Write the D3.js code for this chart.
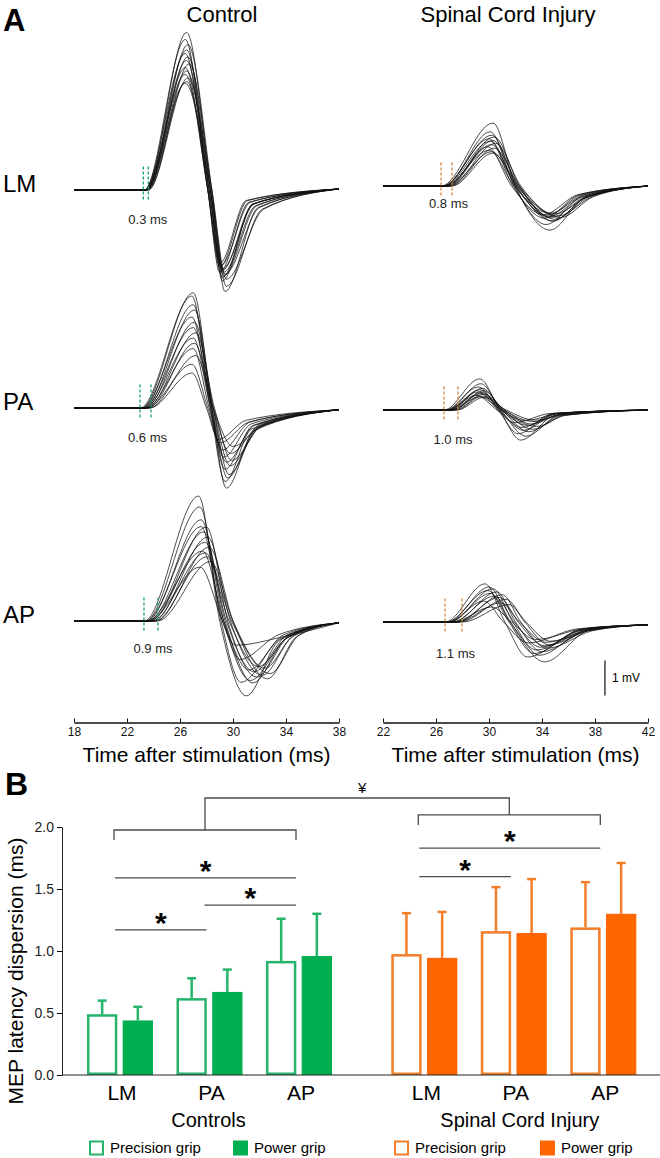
<!DOCTYPE html>
<html>
<head>
<meta charset="utf-8">
<script src="https://cdnjs.cloudflare.com/ajax/libs/d3/7.8.5/d3.min.js"></script>
<style>
  body { margin: 0; background: #fff; }
  svg { display: block; font-family: "Liberation Sans", Arial, sans-serif; }
</style>
</head>
<body>
<svg id="fig" width="660" height="1158"></svg>
<script>
// ====== Panel A: MEP traces ======
// each row: [onset, peakT, peakV, zeroT, troughT, troughV, recT, recV]  (ms, mV)
const ctlLM = [
  [23.4, 26.5, 4.50, 28.3, 29.2, -2.60, 31.5, -0.40],
  [23.3, 26.4, 4.30, 28.1, 29.0, -2.35, 31.2, -0.35],
  [23.5, 26.6, 4.15, 28.4, 29.4, -2.90, 31.9, -0.50],
  [23.4, 26.5, 4.00, 28.2, 29.2, -2.50, 31.5, -0.40],
  [23.3, 26.4, 3.90, 28.1, 29.0, -2.20, 31.1, -0.30],
  [23.5, 26.6, 3.80, 28.3, 29.3, -2.45, 31.8, -0.45],
  [23.4, 26.5, 3.70, 28.2, 29.2, -2.30, 31.5, -0.40],
  [23.6, 26.7, 3.60, 28.4, 29.5, -2.75, 32.2, -0.55],
  [23.4, 26.4, 3.50, 28.1, 29.1, -2.15, 31.3, -0.35],
  [23.5, 26.5, 3.40, 28.3, 29.3, -2.35, 31.7, -0.45],
  [23.3, 26.4, 3.30, 28.1, 29.0, -2.10, 31.0, -0.30],
  [23.6, 26.6, 3.20, 28.4, 29.5, -2.55, 32.3, -0.55],
  [23.5, 26.5, 3.10, 28.2, 29.2, -2.25, 31.6, -0.40],
  [23.4, 26.4, 3.05, 28.3, 29.4, -2.40, 32.0, -0.50]
];
const ctlPA = [
  [23.1, 27.0, 3.29, 28.4, 29.5, -2.29, 31.6, -0.65],
  [23.0, 26.9, 3.20, 28.3, 29.4, -2.10, 31.4, -0.60],
  [23.2, 27.0, 2.95, 28.4, 29.6, -2.00, 31.7, -0.60],
  [23.3, 27.1, 2.80, 28.5, 29.7, -1.90, 31.9, -0.55],
  [23.1, 26.9, 2.60, 28.3, 29.4, -1.75, 31.5, -0.50],
  [23.4, 27.1, 2.45, 28.5, 29.8, -1.65, 32.0, -0.55],
  [23.2, 27.0, 2.30, 28.4, 29.5, -1.55, 31.6, -0.50],
  [23.5, 27.2, 2.15, 28.6, 29.9, -1.50, 32.2, -0.50],
  [23.3, 27.0, 2.00, 28.3, 29.3, -1.40, 31.4, -0.45],
  [23.6, 27.1, 1.85, 28.5, 29.8, -1.30, 32.1, -0.45],
  [23.4, 27.0, 1.70, 28.2, 29.2, -1.20, 31.3, -0.40],
  [23.7, 27.2, 1.50, 28.5, 30.0, -1.10, 32.3, -0.45],
  [23.5, 26.9, 1.25, 28.1, 29.0, -1.00, 31.2, -0.40],
  [23.7, 26.9, 1.00, 28.0, 28.9, -0.90, 31.0, -0.35]
];
const ctlAP = [
  [23.3, 27.4, 3.57, 29.0, 31.0, -2.14, 33.5, -0.55],
  [23.4, 27.5, 3.26, 29.1, 30.6, -1.75, 33.6, -0.50],
  [23.5, 27.6, 2.89, 29.3, 31.3, -1.70, 34.0, -0.50],
  [23.8, 28.0, 2.69, 29.6, 31.8, -1.60, 34.2, -0.45],
  [23.6, 27.8, 2.55, 29.4, 31.5, -1.77, 34.0, -0.50],
  [24.0, 28.1, 2.40, 29.8, 32.2, -1.55, 34.5, -0.45],
  [23.7, 27.9, 2.25, 29.5, 31.6, -1.45, 34.1, -0.40],
  [24.2, 28.2, 2.11, 30.0, 32.6, -1.65, 34.8, -0.45],
  [23.5, 27.7, 2.00, 29.3, 31.2, -1.40, 33.8, -0.40],
  [24.1, 28.0, 1.83, 29.9, 32.8, -1.50, 35.0, -0.40],
  [24.3, 28.3, 1.70, 30.0, 32.4, -1.35, 34.6, -0.40],
  [23.6, 27.5, 1.54, 29.2, 30.5, -1.10, 33.4, -0.40],
  [23.9, 27.9, 1.95, 29.7, 31.9, -1.30, 34.3, -0.40],
  [23.4, 27.6, 2.70, 29.2, 30.2, -0.69, 33.8, -0.45]
];
const sciLM = [
  [26.4, 30.3, 1.80, 32.0, 34.6, -1.26, 37.2, -0.35],
  [26.6, 30.1, 1.55, 31.9, 34.3, -1.10, 37.0, -0.30],
  [26.5, 30.2, 1.45, 32.1, 34.8, -1.00, 37.4, -0.30],
  [26.8, 30.4, 1.40, 32.3, 35.0, -0.95, 37.6, -0.30],
  [26.5, 30.0, 1.35, 31.8, 34.2, -0.92, 36.8, -0.25],
  [26.9, 30.3, 1.30, 32.2, 34.7, -0.90, 37.3, -0.30],
  [26.6, 30.1, 1.28, 32.0, 34.5, -0.88, 37.1, -0.30],
  [27.0, 30.5, 1.22, 32.4, 35.2, -0.86, 37.8, -0.30],
  [26.7, 30.2, 1.18, 32.0, 34.4, -0.84, 37.0, -0.25],
  [26.8, 29.9, 1.12, 31.7, 34.1, -0.82, 36.7, -0.25],
  [27.1, 30.4, 1.08, 32.3, 34.9, -0.80, 37.5, -0.30],
  [26.6, 30.0, 1.02, 31.9, 34.6, -0.78, 37.2, -0.25],
  [26.9, 30.2, 0.98, 32.1, 35.4, -0.90, 37.9, -0.30],
  [27.2, 30.3, 0.94, 32.2, 34.8, -1.00, 37.4, -0.30]
];
const sciPA = [
  [26.6, 29.3, 0.89, 30.8, 32.4, -0.86, 35.0, -0.15],
  [26.8, 29.4, 0.75, 30.9, 32.8, -0.75, 35.3, -0.15],
  [26.7, 29.2, 0.66, 30.7, 32.2, -0.68, 34.8, -0.10],
  [27.0, 29.5, 0.62, 31.0, 33.0, -0.62, 35.5, -0.15],
  [26.9, 29.3, 0.58, 30.8, 32.6, -0.58, 35.1, -0.10],
  [27.2, 29.6, 0.55, 31.1, 33.3, -0.55, 35.7, -0.15],
  [26.8, 29.2, 0.52, 30.7, 32.5, -0.50, 35.0, -0.10],
  [27.3, 29.5, 0.50, 31.0, 33.6, -0.47, 35.8, -0.15],
  [27.0, 29.4, 0.47, 30.9, 32.9, -0.44, 35.2, -0.10],
  [27.4, 29.6, 0.45, 31.2, 33.2, -0.40, 35.6, -0.10],
  [26.9, 29.0, 0.42, 30.6, 31.9, -0.36, 34.6, -0.10],
  [27.5, 29.5, 0.40, 31.1, 33.4, -0.33, 35.7, -0.10],
  [27.1, 29.3, 0.38, 30.9, 32.7, -0.30, 35.3, -0.10],
  [27.6, 29.6, 0.36, 31.3, 33.5, -0.29, 35.9, -0.10]
];
const sciAP = [
  [26.7, 29.7, 1.09, 31.2, 32.9, -1.00, 36.8, -0.25],
  [26.9, 30.0, 1.00, 31.6, 34.2, -1.14, 37.5, -0.25],
  [27.0, 30.3, 0.95, 31.8, 33.8, -0.95, 37.2, -0.25],
  [26.8, 29.9, 0.90, 31.5, 33.4, -0.90, 37.0, -0.20],
  [27.3, 30.6, 0.86, 32.0, 34.0, -0.85, 37.4, -0.25],
  [27.0, 30.1, 0.82, 31.6, 33.6, -0.80, 37.1, -0.20],
  [27.6, 31.0, 0.78, 32.4, 34.4, -0.75, 37.8, -0.25],
  [27.2, 30.4, 0.74, 31.9, 33.9, -0.72, 37.3, -0.20],
  [27.5, 30.8, 0.70, 32.2, 34.2, -0.68, 37.6, -0.20],
  [27.8, 31.3, 0.65, 32.7, 34.5, -0.65, 37.9, -0.20],
  [26.9, 29.6, 0.60, 31.1, 33.0, -0.60, 36.6, -0.20],
  [27.6, 30.9, 0.55, 32.3, 34.3, -0.58, 37.7, -0.20],
  [28.0, 31.5, 0.50, 32.8, 34.6, -0.55, 38.0, -0.20],
  [27.3, 30.2, 0.43, 31.7, 33.5, -0.50, 37.0, -0.20]
];
const ctlEndV = [0.03, -0.05, -0.05];
const sciEndV = [0.00, 0.00, -0.08];

const rowNames = ["LM", "PA", "AP"];
const ctlOnsets = [[23.23, 23.61], [22.98, 23.81], [23.28, 24.34]];
const sciOnsets = [[26.38, 27.21], [26.60, 27.66], [26.68, 27.96]];
const ctlLatency = ["0.3 ms", "0.6 ms", "0.9 ms"];
const sciLatency = ["0.8 ms", "1.0 ms", "1.1 ms"];
const ctlTicks = [18, 22, 26, 30, 34, 38];
const sciTicks = [22, 26, 30, 34, 38, 42];

// ====== Panel B: latency dispersion (ms) ======
const muscles = ["LM", "PA", "AP"];
const ctlPrecision = [0.49, 0.62, 0.92];
const ctlPrecisionSd = [0.11, 0.16, 0.34];
const ctlPower = [0.44, 0.67, 0.96];
const ctlPowerSd = [0.11, 0.18, 0.34];
const sciPrecision = [0.975, 1.16, 1.19];
const sciPrecisionSd = [0.33, 0.355, 0.365];
const sciPower = [0.945, 1.145, 1.30];
const sciPowerSd = [0.37, 0.435, 0.41];
const yTicksB = [0, 0.5, 1.0, 1.5, 2.0];
// significance bars: [fromGroup, toGroup, height]
const ctlSig = [[0, 2, 1.59], [1, 2, 1.37], [0, 1, 1.17]];
const sciSig = [[0, 2, 1.83], [0, 1, 1.60]];

// ====== layout ======
const svg = d3.select("#fig");
const GREEN = "#00b050", GREEN_LINE = "#26b36a";
const ORANGE = "#ff6600", ORANGE_LINE = "#f37e2a";
const DASH_GREEN = "#1a9e72", DASH_ORANGE = "#d4883a";

const xCtl = d3.scaleLinear().domain([18, 38]).range([74, 339]);
const xSci = d3.scaleLinear().domain([22, 42]).range([383, 648]);
const MV = 35;  // px per mV
const ctlBase = [190, 408, 621];
const sciBase = [186, 410, 622];
const ctlLabelY = [-0.97, -0.97, -0.91];
const sciLabelY = [-0.62, -0.97, -1.03];
const rowScale = base => d3.scaleLinear().domain([0, 1]).range([base, base - MV]);

svg.append("text").attr("x", 3).attr("y", 31)
  .attr("font-size", 31).attr("font-weight", "bold").text("A");
svg.append("text").attr("x", 222).attr("y", 22).attr("text-anchor", "middle")
  .attr("font-size", 22).text("Control");
svg.append("text").attr("x", 508).attr("y", 22).attr("text-anchor", "middle")
  .attr("font-size", 22).text("Spinal Cord Injury");

function drawTraces(x, base, rows, t0, t1, endV){
  const y = rowScale(base);
  const line = d3.line().x(d => x(d[0])).y(d => y(d[1])).curve(d3.curveMonotoneX);
  const g = svg.append("g");
  rows.forEach(r => {
    const pts = [[t0, 0], [r[0], 0], [r[1], r[2]], [r[3], 0], [r[4], r[5]], [r[6], r[7]], [t1, endV]];
    g.append("path").attr("d", line(pts))
      .attr("fill", "none").attr("stroke", "#111").attr("stroke-width", 0.75);
  });
}

function drawOnset(x, base, marks, color, text, labelY){
  const y = rowScale(base);
  marks.forEach(t => {
    svg.append("line")
      .attr("x1", x(t)).attr("x2", x(t)).attr("y1", y(0.67)).attr("y2", y(-0.33))
      .attr("stroke", color).attr("stroke-width", 1.3).attr("stroke-dasharray", "3,2");
  });
  svg.append("text").attr("x", x(d3.mean(marks)) + 2).attr("y", y(labelY))
    .attr("text-anchor", "middle").attr("font-size", 13).attr("fill", "#222").text(text);
}

const ctlSets = [ctlLM, ctlPA, ctlAP];
const sciSets = [sciLM, sciPA, sciAP];
rowNames.forEach((name, i) => {
  svg.append("text").attr("x", 3).attr("y", ctlBase[i] + 2)
    .attr("font-size", 24).text(name);
  drawTraces(xCtl, ctlBase[i], ctlSets[i], 18, 38, ctlEndV[i]);
  drawTraces(xSci, sciBase[i], sciSets[i], 22, 42, sciEndV[i]);
  drawOnset(xCtl, ctlBase[i], ctlOnsets[i], DASH_GREEN, ctlLatency[i], ctlLabelY[i]);
  drawOnset(xSci, sciBase[i], sciOnsets[i], DASH_ORANGE, sciLatency[i], sciLabelY[i]);
});

// 1 mV scale bar
const ySb = rowScale(sciBase[2]);
svg.append("line").attr("x1", xSci(38.75)).attr("x2", xSci(38.75))
  .attr("y1", ySb(-1.1)).attr("y2", ySb(-2.1)).attr("stroke", "#222").attr("stroke-width", 1.3);
svg.append("text").attr("x", xSci(38.75) + 7).attr("y", ySb(-1.6) + 4)
  .attr("font-size", 12).text("1 mV");

// time axes
[[xCtl, ctlTicks], [xSci, sciTicks]].forEach(([x, ticks]) => {
  const ax = svg.append("g").attr("transform", "translate(0,722.5)")
    .call(d3.axisBottom(x).tickValues(ticks).tickSizeInner(-4).tickSizeOuter(0).tickPadding(5));
  ax.selectAll("text").attr("font-size", 12).attr("font-family", "Liberation Sans, Arial, sans-serif").attr("fill", "#111");
  ax.select(".domain").attr("stroke", "#111").attr("stroke-width", 1.3);
  ax.selectAll(".tick line").attr("stroke", "#111");
  svg.append("text").attr("x", (x.range()[0] + x.range()[1]) / 2).attr("y", 762)
    .attr("text-anchor", "middle").attr("font-size", 21).text("Time after stimulation (ms)");
});

// ====== Panel B ======
const bx = d3.scaleLinear().domain([0, 1]).range([120, 209.5]);
const by = d3.scaleLinear().domain([0, 2]).range([1075, 827]);
const inner = d3.scaleBand().domain(["precision", "power"]).range([-33, 33]).paddingInner(0.15);
const ctlPos = [0, 1, 2];
const sciPos = [3.4, 4.4, 5.4];

svg.append("text").attr("x", 5).attr("y", 795)
  .attr("font-size", 32).attr("font-weight", "bold").text("B");

const groups = [
  { pos: ctlPos, prec: ctlPrecision, precSd: ctlPrecisionSd, pow: ctlPower, powSd: ctlPowerSd, fill: GREEN, line: GREEN_LINE },
  { pos: sciPos, prec: sciPrecision, precSd: sciPrecisionSd, pow: sciPower, powSd: sciPowerSd, fill: ORANGE, line: ORANGE_LINE }
];
const bw = inner.bandwidth();

groups.forEach(gr => {
  muscles.forEach((m, i) => {
    const c = bx(gr.pos[i]);
    // precision grip (open)
    const xp = c + inner("precision");
    svg.append("line").attr("x1", xp + bw / 2).attr("x2", xp + bw / 2)
      .attr("y1", by(gr.prec[i])).attr("y2", by(gr.prec[i] + gr.precSd[i]))
      .attr("stroke", gr.line).attr("stroke-width", 2.5);
    svg.append("line").attr("x1", xp + bw / 2 - 4.5).attr("x2", xp + bw / 2 + 4.5)
      .attr("y1", by(gr.prec[i] + gr.precSd[i])).attr("y2", by(gr.prec[i] + gr.precSd[i]))
      .attr("stroke", gr.line).attr("stroke-width", 2.5);
    svg.append("rect").attr("x", xp + 1.25).attr("width", bw - 2.5)
      .attr("y", by(gr.prec[i]) + 1.25).attr("height", by(0) - by(gr.prec[i]) - 2.5)
      .attr("fill", "#fff").attr("stroke", gr.line).attr("stroke-width", 2.5);
    // power grip (filled)
    const xw = c + inner("power");
    svg.append("line").attr("x1", xw + bw / 2).attr("x2", xw + bw / 2)
      .attr("y1", by(gr.pow[i])).attr("y2", by(gr.pow[i] + gr.powSd[i]))
      .attr("stroke", gr.line).attr("stroke-width", 2.5);
    svg.append("line").attr("x1", xw + bw / 2 - 4.5).attr("x2", xw + bw / 2 + 4.5)
      .attr("y1", by(gr.pow[i] + gr.powSd[i])).attr("y2", by(gr.pow[i] + gr.powSd[i]))
      .attr("stroke", gr.line).attr("stroke-width", 2.5);
    svg.append("rect").attr("x", xw).attr("width", bw)
      .attr("y", by(gr.pow[i])).attr("height", by(0) - by(gr.pow[i]))
      .attr("fill", gr.fill);
    // muscle label
    svg.append("text").attr("x", c + 2).attr("y", 1100).attr("text-anchor", "middle")
      .attr("font-size", 21).text(m);
  });
});

// axes
const yAx = svg.append("g").attr("transform", "translate(62,0)")
  .call(d3.axisLeft(by).tickValues(yTicksB).tickFormat(d3.format(".1f")).tickSizeInner(5).tickSizeOuter(0).tickPadding(3));
yAx.selectAll("text").attr("font-size", 14).attr("font-family", "Liberation Sans, Arial, sans-serif").attr("fill", "#222");
yAx.select(".domain").attr("stroke", "#222");
svg.append("line").attr("x1", 62).attr("x2", 660).attr("y1", by(0)).attr("y2", by(0))
  .attr("stroke", "#222").attr("stroke-width", 1.2);
svg.append("text").attr("transform", `translate(23,${(by(0) + by(2)) / 2 + 20}) rotate(-90)`)
  .attr("text-anchor", "middle").attr("font-size", 21).text("MEP latency dispersion (ms)");

svg.append("text").attr("x", bx(1) - 1).attr("y", 1127).attr("text-anchor", "middle")
  .attr("font-size", 20).text("Controls");
svg.append("text").attr("x", bx(4.4) + 6).attr("y", 1127).attr("text-anchor", "middle")
  .attr("font-size", 20).text("Spinal Cord Injury");

// significance lines and stars
const GREY = "#4a4a4a";
function sigLine(posArr, s){
  const x1 = bx(posArr[s[0]]) - 5, x2 = bx(posArr[s[1]]) - 3, y = by(s[2]);
  svg.append("line").attr("x1", x1).attr("x2", x2).attr("y1", y).attr("y2", y)
    .attr("stroke", GREY).attr("stroke-width", 1.3);
  svg.append("text").attr("x", (x1 + x2) / 2).attr("y", y + 3).attr("text-anchor", "middle")
    .attr("font-size", 30).attr("font-weight", "bold").text("*");
}
ctlSig.forEach(s => sigLine(ctlPos, s));
sciSig.forEach(s => sigLine(sciPos, s));

// group brackets
function bracket(posArr, h, drop){
  const x1 = bx(posArr[0]) - 6, x2 = bx(posArr[2]) - 3;
  svg.append("path")
    .attr("d", `M${x1},${by(h - drop)}V${by(h)}H${x2}V${by(h - drop)}`)
    .attr("fill", "none").attr("stroke", GREY).attr("stroke-width", 1.3);
  return [(x1 + x2) / 2, by(h)];
}
const bc = bracket(ctlPos, 1.976, 0.08);
const bs = bracket(sciPos, 2.097, 0.08);
const topY = by(2.234);
svg.append("path").attr("d", `M${bc[0]},${bc[1]}V${topY}H${bs[0]}V${bs[1]}`)
  .attr("fill", "none").attr("stroke", GREY).attr("stroke-width", 1.3);
svg.append("text").attr("x", (bc[0] + bs[0]) / 2 + 5).attr("y", topY - 5)
  .attr("text-anchor", "middle").attr("font-size", 15).text("¥");

// legend
const legendItems = [
  { label: "Precision grip", stroke: GREEN_LINE, fill: "#fff", x: 89 },
  { label: "Power grip", stroke: GREEN, fill: GREEN, x: 233 },
  { label: "Precision grip", stroke: ORANGE_LINE, fill: "#fff", x: 394 },
  { label: "Power grip", stroke: ORANGE, fill: ORANGE, x: 540 }
];
legendItems.forEach(d => {
  svg.append("rect").attr("x", d.x + 1).attr("y", 1141.5).attr("width", 13).attr("height", 13)
    .attr("fill", d.fill).attr("stroke", d.stroke).attr("stroke-width", 2);
  svg.append("text").attr("x", d.x + 21).attr("y", 1153).attr("font-size", 15).text(d.label);
});
</script>
</body>
</html>
